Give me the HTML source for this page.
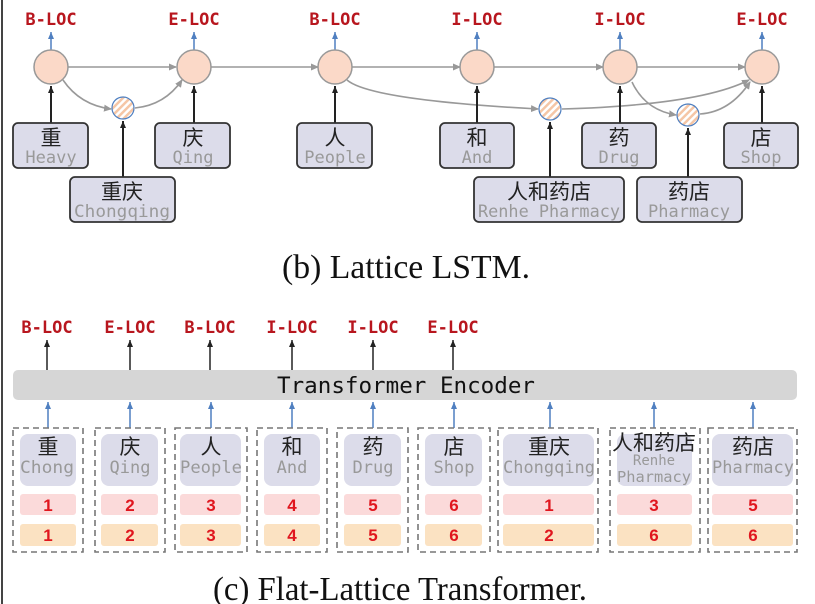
<!DOCTYPE html>
<html><head><meta charset="utf-8"><style>
html,body{margin:0;padding:0;background:#fff;}
svg{display:block;}
.lab{font-family:"DejaVu Sans Mono","Liberation Mono",monospace;font-weight:bold;font-size:17px;fill:#b8161e;}
.zh{font-family:"Liberation Sans","Noto Sans CJK SC",sans-serif;font-size:21px;fill:#222;}
.en{font-family:"DejaVu Sans Mono","Liberation Mono",monospace;font-size:17px;fill:#999;}
.num{font-family:"Liberation Sans",sans-serif;font-size:17px;font-weight:bold;fill:#e0161e;}
.cap{font-family:"Liberation Serif",serif;font-size:34px;fill:#111;}
</style></head><body>
<svg width="815" height="604" viewBox="0 0 815 604" xmlns="http://www.w3.org/2000/svg">
<defs>
<marker id="ag" markerWidth="8" markerHeight="8" refX="7" refY="4" orient="auto" markerUnits="userSpaceOnUse"><path d="M0,0.5 L8,4 L0,7.5z" fill="#999"/></marker>
<marker id="ak" markerWidth="8" markerHeight="8" refX="7" refY="4" orient="auto" markerUnits="userSpaceOnUse"><path d="M0,1 L7,4 L0,7z" fill="#222"/></marker>
<marker id="ab" markerWidth="8" markerHeight="8" refX="7" refY="4" orient="auto" markerUnits="userSpaceOnUse"><path d="M0,1 L7,4 L0,7z" fill="#4f7fc0"/></marker>
<pattern id="st" width="5" height="5" patternUnits="userSpaceOnUse" patternTransform="rotate(-45)"><rect width="5" height="5" fill="#fff"/><rect width="5" height="2.5" fill="#f5c6a6"/></pattern>
</defs>
<line x1="2" y1="0" x2="2" y2="604" stroke="#444" stroke-width="2"/>

<g class="lab" text-anchor="middle">
<text x="51" y="25">B-LOC</text><text x="194" y="25">E-LOC</text><text x="335" y="25">B-LOC</text>
<text x="477" y="25">I-LOC</text><text x="620" y="25">I-LOC</text><text x="762" y="25">E-LOC</text>
</g>
<g stroke="#4f7fc0" stroke-width="1.5" marker-end="url(#ab)">
<line x1="51" y1="50" x2="51" y2="32"/><line x1="194" y1="50" x2="194" y2="32"/><line x1="335" y1="50" x2="335" y2="32"/>
<line x1="477" y1="50" x2="477" y2="32"/><line x1="620" y1="50" x2="620" y2="32"/><line x1="762" y1="50" x2="762" y2="32"/>
</g>
<g stroke="#999" stroke-width="1.6" fill="none" marker-end="url(#ag)">
<line x1="68" y1="67" x2="176" y2="67"/><line x1="211" y1="67" x2="318" y2="67"/><line x1="352" y1="67" x2="460" y2="67"/>
<line x1="494" y1="67" x2="603" y2="67"/><line x1="637" y1="67" x2="745" y2="67"/>
<path d="M63,80 Q80,105 111,109"/>
<path d="M135,108 Q165,105 182,80"/>
<path d="M347,80 Q370,100 538,109"/>
<path d="M562,109 Q700,105 749,80"/>
<path d="M632,82 Q645,110 676,115"/>
<path d="M700,114 Q730,112 750,82"/>
</g>
<g fill="#fbd9c8" stroke="#999" stroke-width="1.5">
<circle cx="51" cy="67" r="17"/><circle cx="194" cy="67" r="17"/><circle cx="335" cy="67" r="17"/>
<circle cx="477" cy="67" r="17"/><circle cx="620" cy="67" r="17"/><circle cx="762" cy="67" r="17"/>
</g>
<g fill="url(#st)" stroke="#4f7fc0" stroke-width="1.2">
<circle cx="123" cy="108" r="11"/><circle cx="550" cy="109" r="11"/><circle cx="688" cy="115" r="11"/>
</g>
<g stroke="#222" stroke-width="2" marker-end="url(#ak)">
<line x1="51" y1="123" x2="51" y2="86"/><line x1="194" y1="123" x2="194" y2="86"/><line x1="335" y1="123" x2="335" y2="86"/>
<line x1="477" y1="123" x2="477" y2="86"/><line x1="620" y1="123" x2="620" y2="86"/><line x1="762" y1="123" x2="762" y2="86"/>
<line x1="123" y1="177" x2="123" y2="121"/><line x1="550" y1="177" x2="550" y2="122"/><line x1="688" y1="177" x2="688" y2="128"/>
</g>
<g fill="#dcdcea" stroke="#333" stroke-width="1.8">
<rect x="13" y="123" width="75" height="45" rx="5"/><rect x="155" y="123" width="75" height="45" rx="5"/>
<rect x="297" y="123" width="75" height="45" rx="5"/><rect x="440" y="123" width="74" height="45" rx="5"/>
<rect x="582" y="123" width="74" height="45" rx="5"/><rect x="724" y="123" width="74" height="45" rx="5"/>
<rect x="70" y="177" width="105" height="45" rx="5"/><rect x="474" y="177" width="150" height="45" rx="5"/>
<rect x="637" y="177" width="105" height="45" rx="5"/>
</g>
<g text-anchor="middle">
<text class="zh" x="51" y="145">重</text><text class="en" x="51" y="163">Heavy</text>
<text class="zh" x="193" y="145">庆</text><text class="en" x="193" y="163">Qing</text>
<text class="zh" x="335" y="145">人</text><text class="en" x="335" y="163">People</text>
<text class="zh" x="477" y="145">和</text><text class="en" x="477" y="163">And</text>
<text class="zh" x="619" y="145">药</text><text class="en" x="619" y="163">Drug</text>
<text class="zh" x="761" y="145">店</text><text class="en" x="761" y="163">Shop</text>
<text class="zh" x="122" y="199">重庆</text><text class="en" x="122" y="217" textLength="96" lengthAdjust="spacingAndGlyphs">Chongqing</text>
<text class="zh" x="549" y="199">人和药店</text><text class="en" x="549" y="217" textLength="142" lengthAdjust="spacingAndGlyphs">Renhe Pharmacy</text>
<text class="zh" x="689" y="199">药店</text><text class="en" x="689" y="217" textLength="82" lengthAdjust="spacingAndGlyphs">Pharmacy</text>
</g>
<text class="cap" x="406" y="278" text-anchor="middle" textLength="248" lengthAdjust="spacingAndGlyphs">(b) Lattice LSTM.</text>

<g class="lab" text-anchor="middle">
<text x="47" y="333">B-LOC</text><text x="130" y="333">E-LOC</text><text x="210" y="333">B-LOC</text>
<text x="292" y="333">I-LOC</text><text x="373" y="333">I-LOC</text><text x="453" y="333">E-LOC</text>
</g>
<g stroke="#222" stroke-width="1.5" marker-end="url(#ak)">
<line x1="47" y1="370" x2="47" y2="340"/><line x1="130" y1="370" x2="130" y2="340"/><line x1="210" y1="370" x2="210" y2="340"/>
<line x1="292" y1="370" x2="292" y2="340"/><line x1="373" y1="370" x2="373" y2="340"/><line x1="453" y1="370" x2="453" y2="340"/>
</g>
<rect x="13" y="370" width="784" height="30" rx="5" fill="#d6d6d6"/>
<text x="406" y="393" text-anchor="middle" textLength="258" lengthAdjust="spacingAndGlyphs" style="font-family:'DejaVu Sans Mono','Liberation Mono',monospace;font-size:22px;fill:#111">Transformer Encoder</text>
<g stroke="#4f7fc0" stroke-width="1.5" marker-end="url(#ab)">
<line x1="48" y1="428" x2="48" y2="402"/><line x1="130" y1="428" x2="130" y2="402"/><line x1="211" y1="428" x2="211" y2="402"/>
<line x1="292" y1="428" x2="292" y2="402"/><line x1="373" y1="428" x2="373" y2="402"/><line x1="454" y1="428" x2="454" y2="402"/>
<line x1="550" y1="428" x2="550" y2="402"/><line x1="654" y1="428" x2="654" y2="402"/><line x1="753" y1="428" x2="753" y2="402"/>
</g>
<g fill="none" stroke="#777" stroke-width="1.6" stroke-dasharray="6,4">
<rect x="13" y="428" width="70" height="124"/><rect x="95" y="428" width="70" height="124"/>
<rect x="175" y="428" width="72" height="124"/><rect x="257" y="428" width="70" height="124"/>
<rect x="337" y="428" width="71" height="124"/><rect x="418" y="428" width="72" height="124"/>
<rect x="498" y="428" width="100" height="124"/><rect x="610" y="428" width="90" height="124"/>
<rect x="708" y="428" width="89" height="124"/>
</g>
<g fill="#dcdcea">
<rect x="20" y="434" width="56" height="52" rx="8"/><rect x="101" y="434" width="57" height="52" rx="8"/>
<rect x="180" y="434" width="61" height="52" rx="8"/><rect x="264" y="434" width="56" height="52" rx="8"/>
<rect x="344" y="434" width="57" height="52" rx="8"/><rect x="425" y="434" width="57" height="52" rx="8"/>
<rect x="503" y="434" width="91" height="52" rx="8"/><rect x="617" y="434" width="75" height="52" rx="8"/>
<rect x="712" y="434" width="81" height="52" rx="8"/>
</g>
<g fill="#fbdada">
<rect x="20" y="494" width="56" height="21" rx="3"/><rect x="101" y="494" width="57" height="21" rx="3"/>
<rect x="180" y="494" width="61" height="21" rx="3"/><rect x="264" y="494" width="56" height="21" rx="3"/>
<rect x="344" y="494" width="57" height="21" rx="3"/><rect x="425" y="494" width="57" height="21" rx="3"/>
<rect x="503" y="494" width="91" height="21" rx="3"/><rect x="617" y="494" width="75" height="21" rx="3"/>
<rect x="712" y="494" width="81" height="21" rx="3"/>
</g>
<g fill="#fbe2c2">
<rect x="20" y="524" width="56" height="22" rx="3"/><rect x="101" y="524" width="57" height="22" rx="3"/>
<rect x="180" y="524" width="61" height="22" rx="3"/><rect x="264" y="524" width="56" height="22" rx="3"/>
<rect x="344" y="524" width="57" height="22" rx="3"/><rect x="425" y="524" width="57" height="22" rx="3"/>
<rect x="503" y="524" width="91" height="22" rx="3"/><rect x="617" y="524" width="75" height="22" rx="3"/>
<rect x="712" y="524" width="81" height="22" rx="3"/>
</g>
<g text-anchor="middle">
<text class="zh" x="48" y="454">重</text><text class="en" x="47" y="473" textLength="54" lengthAdjust="spacingAndGlyphs">Chong</text>
<text class="zh" x="130" y="454">庆</text><text class="en" x="130" y="473">Qing</text>
<text class="zh" x="211" y="454">人</text><text class="en" x="211" y="473" textLength="62" lengthAdjust="spacingAndGlyphs">People</text>
<text class="zh" x="292" y="454">和</text><text class="en" x="292" y="473">And</text>
<text class="zh" x="373" y="454">药</text><text class="en" x="373" y="473">Drug</text>
<text class="zh" x="454" y="454">店</text><text class="en" x="454" y="473">Shop</text>
<text class="zh" x="549" y="454">重庆</text><text class="en" x="549" y="473" textLength="92" lengthAdjust="spacingAndGlyphs">Chongqing</text>
<text class="zh" x="654" y="450">人和药店</text>
<text class="en" x="654" y="465" style="font-size:14px">Renhe</text><text class="en" x="654" y="482" textLength="74" lengthAdjust="spacingAndGlyphs" style="font-size:15px">Pharmacy</text>
<text class="zh" x="753" y="454">药店</text><text class="en" x="753" y="473" textLength="82" lengthAdjust="spacingAndGlyphs">Pharmacy</text>
</g>
<g class="num" text-anchor="middle">
<text x="48" y="511">1</text><text x="130" y="511">2</text><text x="211" y="511">3</text><text x="292" y="511">4</text><text x="373" y="511">5</text><text x="454" y="511">6</text><text x="549" y="511">1</text><text x="654" y="511">3</text><text x="753" y="511">5</text>
<text x="48" y="541">1</text><text x="130" y="541">2</text><text x="211" y="541">3</text><text x="292" y="541">4</text><text x="373" y="541">5</text><text x="454" y="541">6</text><text x="549" y="541">2</text><text x="654" y="541">6</text><text x="753" y="541">6</text>
</g>
<text class="cap" x="400" y="600" text-anchor="middle" textLength="374" lengthAdjust="spacingAndGlyphs">(c) Flat-Lattice Transformer.</text>
</svg>
</body></html>
